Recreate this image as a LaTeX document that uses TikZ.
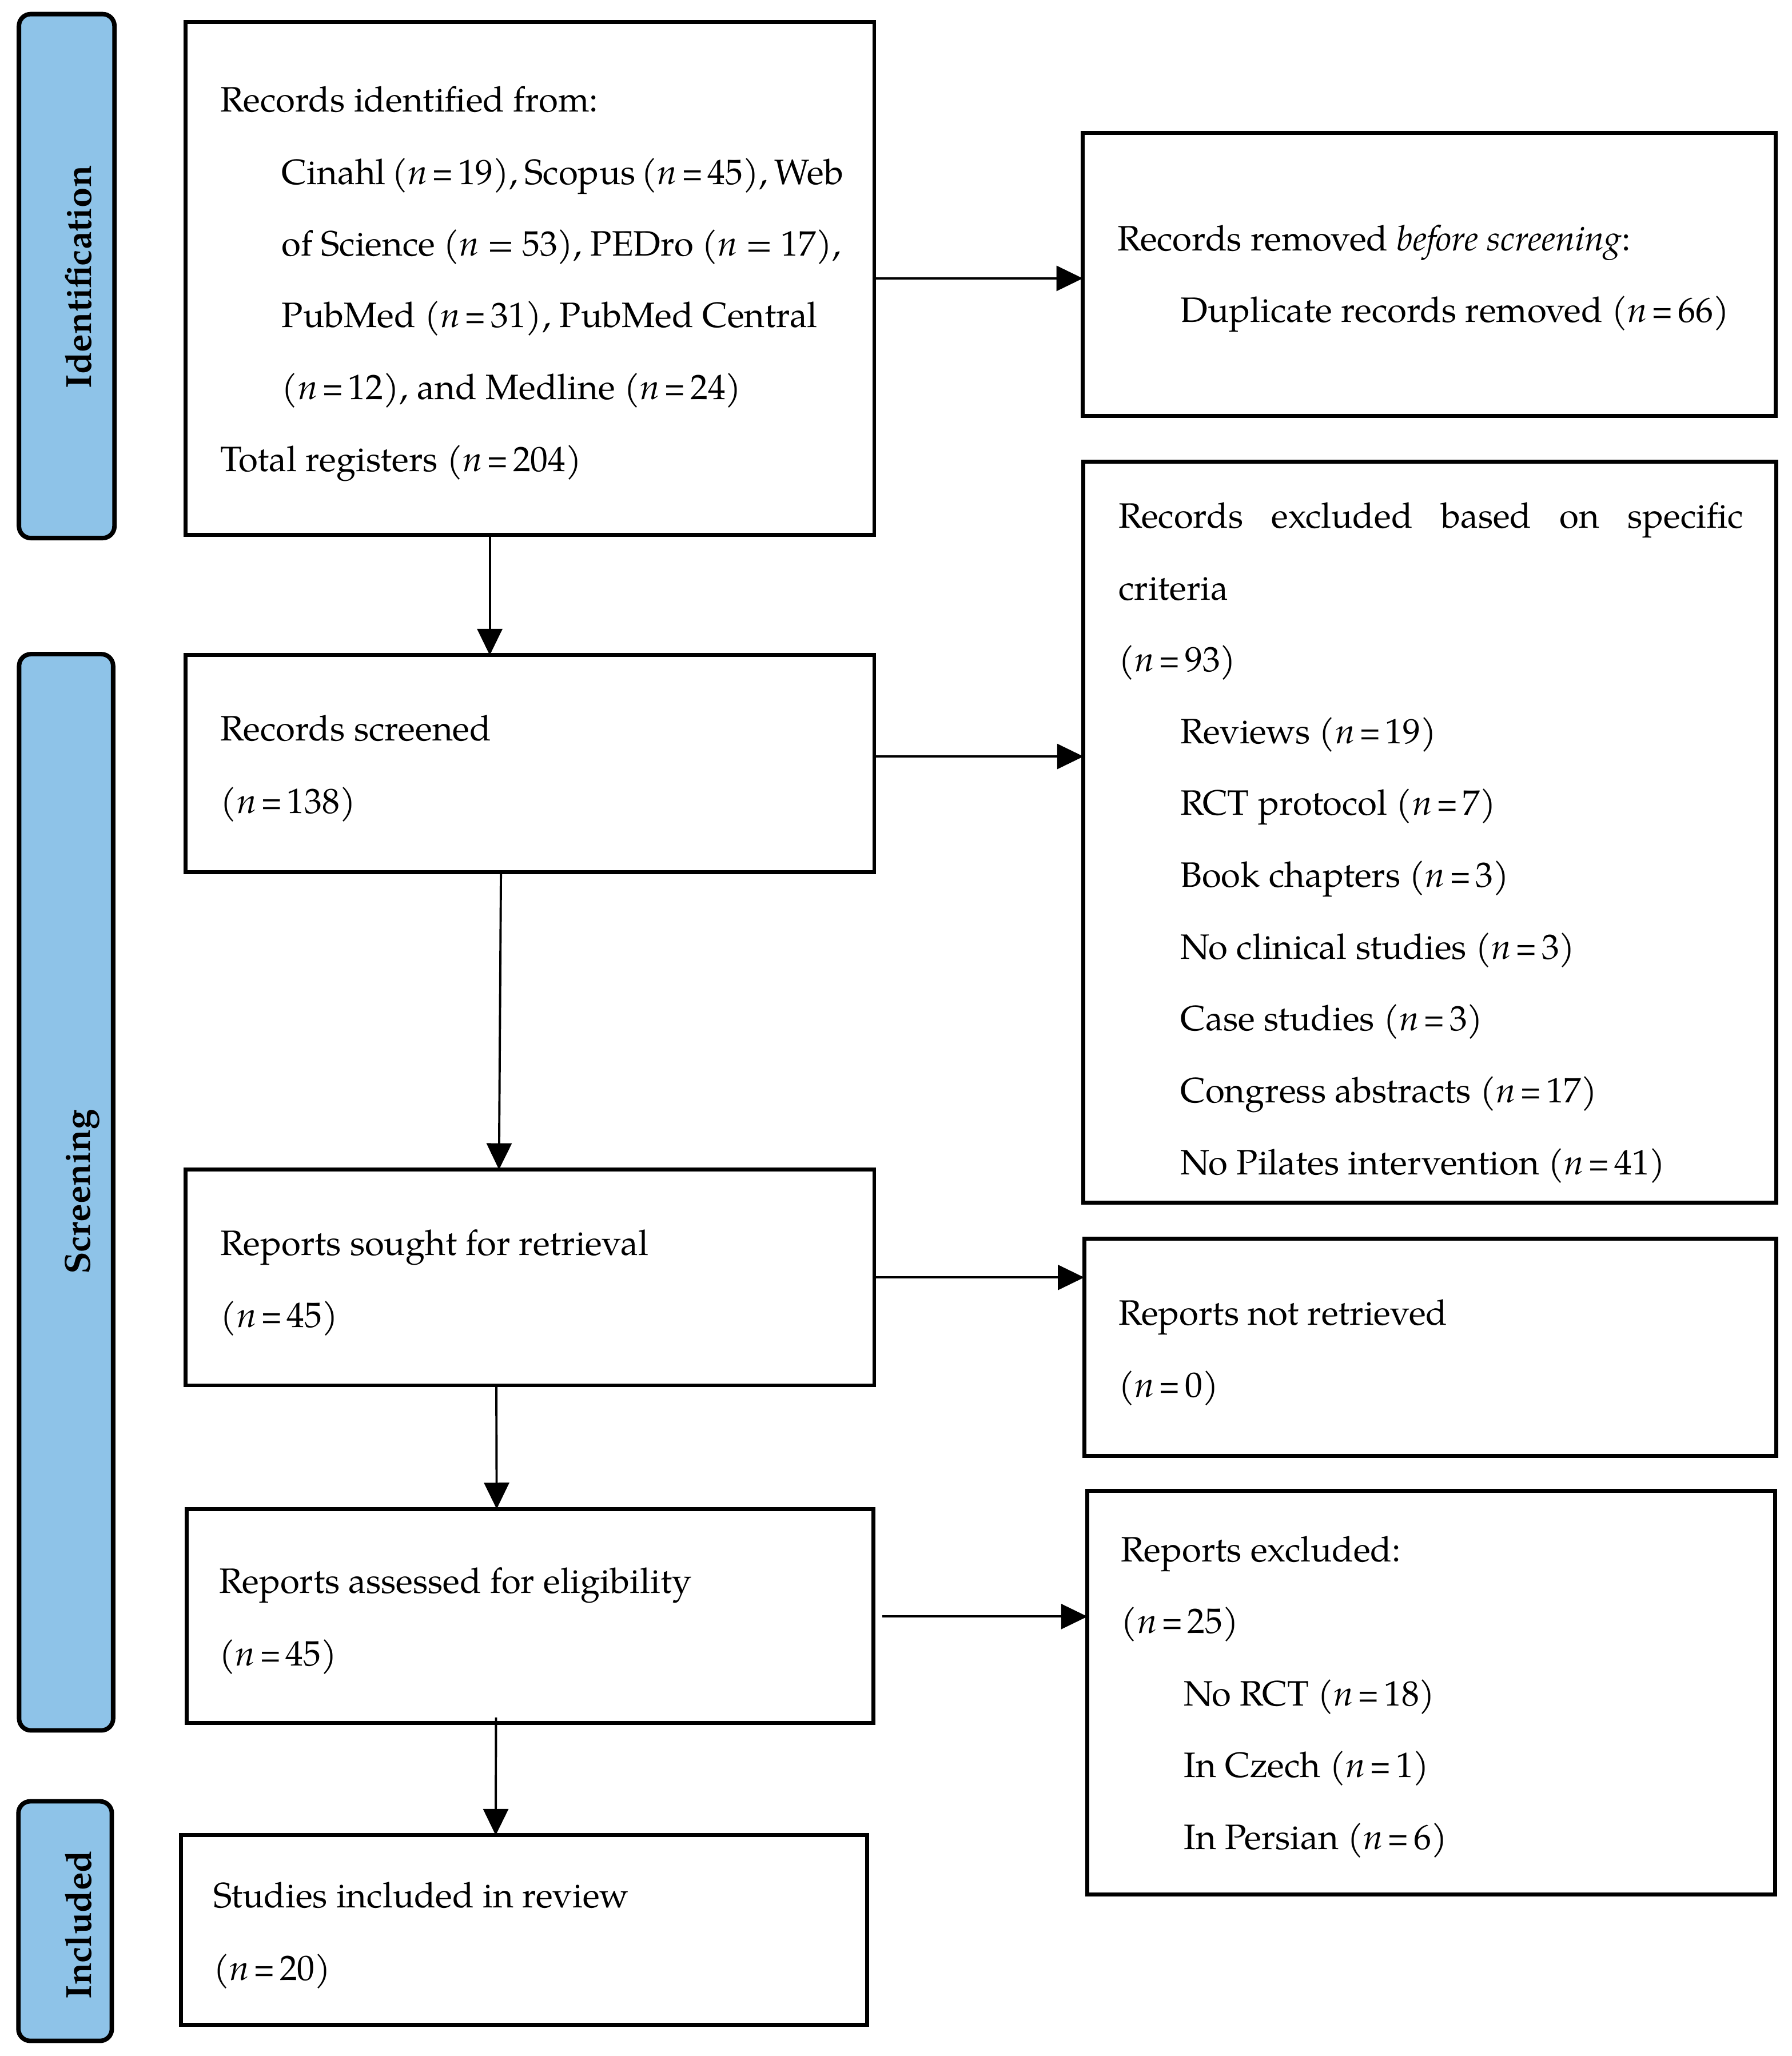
\documentclass[tikz,border=0pt]{standalone}
\usepackage{fontspec}
\usepackage{graphicx}
\setmainfont{texgyrepagella}[Extension=.otf, UprightFont=*-regular, BoldFont=*-bold, ItalicFont=*-italic, BoldItalicFont=*-bolditalic]
\usetikzlibrary{arrows.meta,fit}
\definecolor{sidebl}{RGB}{142,195,232}
\newcommand\nEq[1]{(\textit{n}\hspace{0.13em}\scalebox{0.8}[1]{=}\hspace{0.13em}#1)}
\begin{document}
\begin{tikzpicture}[x=1pt,y=-1pt,
  box/.style={draw,line width=3pt,inner sep=0pt,outer sep=0pt},
  side/.style={draw,line width=3.4pt,fill=sidebl,rounded corners=9pt,inner sep=0pt,outer sep=0pt},
  txt/.style={anchor=base west,inner sep=0pt,font=\fontsize{26.8}{30}\selectfont},
  lab/.style={anchor=base,rotate=90,inner sep=0pt,font=\fontsize{27.5}{30}\selectfont\bfseries},
  arr/.style={line width=1.7pt,-{Triangle[length=20pt,width=19pt]}}]
\useasboundingbox (0,0) rectangle (1362,1562.8);
% side labels
\node[side,fit={(14.4,10.7) (87,409)}] (sid) {};
\node[side,fit={(14.5,497.2) (86,1315.3)}] (sscr) {};
\node[side,fit={(14,1369.2) (85,1551.3)}] (sinc) {};
\node[lab] (lid) at (69.5,210.5) {Identification};
\node[lab] (lscr) at (68.5,906) {Screening};
\node[lab] (linc) at (69.5,1463) {Included};
% boxes
\node[box,fit={(141,16.6) (664.5,406.6)}] (A) {};
\node[box,fit={(823,101) (1349.5,316)}] (B) {};
\node[box,fit={(141,498) (664.5,663)}] (C) {};
\node[box,fit={(823.5,351) (1350,914)}] (D) {};
\node[box,fit={(141,889) (664.5,1053)}] (E) {};
\node[box,fit={(824,941.5) (1350,1106.5)}] (F) {};
\node[box,fit={(142,1147) (664,1309.5)}] (G) {};
\node[box,fit={(826.5,1133) (1349,1440)}] (H) {};
\node[box,fit={(137.5,1395) (659,1539)}] (I) {};
% texts A
\node[txt] (a1) at (167.5,85) {Records identified from:};
\node[txt] (a2) at (214,140) {\makebox[425pt][s]{Cinahl \nEq{19}, Scopus \nEq{45}, Web}};
\node[txt] (a3) at (214,194.5) {\makebox[425pt][s]{of Science (\textit{n} = 53), PEDro (\textit{n} = 17),}};
\node[txt] (a4) at (214,249) {PubMed \nEq{31}, PubMed Central};
\node[txt] (a5) at (214,303.5) {\nEq{12}, and Medline \nEq{24}};
\node[txt] (a6) at (167.5,358.5) {Total registers \nEq{204}};
% texts B
\node[txt] (b1) at (849,190.5) {Records removed \textit{before screening}:};
\node[txt] (b2) at (897,245) {Duplicate records removed \nEq{66}};
% texts C
\node[txt] (c1) at (167.5,563) {Records screened};
\node[txt] (c2) at (167.5,618) {\nEq{138}};
% texts D
\node[txt] (d1) at (850,401.3) {\makebox[475pt][s]{Records excluded based on specific}};
\node[txt] (d2) at (850,455.9) {criteria};
\node[txt] (d3) at (850,510.5) {\nEq{93}};
\node[txt] (d4) at (897,565.1) {Reviews \nEq{19}};
\node[txt] (d5) at (897,619.7) {RCT protocol \nEq{7}};
\node[txt] (d6) at (897,674.3) {Book chapters \nEq{3}};
\node[txt] (d7) at (897,728.9) {No clinical studies \nEq{3}};
\node[txt] (d8) at (897,783.5) {Case studies \nEq{3}};
\node[txt] (d9) at (897,838.1) {Congress abstracts \nEq{17}};
\node[txt] (d10) at (897,892.7) {No Pilates intervention \nEq{41}};
% texts E
\node[txt] (e1) at (167.5,954) {Reports sought for retrieval};
\node[txt] (e2) at (167.5,1009) {\nEq{45}};
% texts F
\node[txt] (f1) at (850,1007) {Reports not retrieved};
\node[txt] (f2) at (850,1062) {\nEq{0}};
% texts G
\node[txt] (g1) at (166.5,1211) {Reports assessed for eligibility};
\node[txt] (g2) at (166.5,1266) {\nEq{45}};
% texts H
\node[txt] (h1) at (852,1187) {Reports excluded:};
\node[txt] (h2) at (852,1241.5) {\nEq{25}};
\node[txt] (h3) at (899.5,1296.5) {No RCT \nEq{18}};
\node[txt] (h4) at (899.5,1351) {In Czech \nEq{1}};
\node[txt] (h5) at (899.5,1405.5) {In Persian \nEq{6}};
% texts I
\node[txt] (i1) at (162,1450) {Studies included in review};
\node[txt] (i2) at (162,1505) {\nEq{20}};
% arrows
\draw[arr] (A.east) -- (A.east -| B.west);
\draw[arr] ([yshift=5.5pt]C.east) -- ([yshift=5.5pt]C.east -| D.west);
\draw[arr] (E.east) -- (E.east -| F.west);
\draw[arr] ([xshift=6.5pt,yshift=-0.5pt]G.east) -- ([yshift=-0.5pt]G.east -| H.west);
\draw[arr] ([xshift=-30.5pt]A.south) -- ([xshift=-30.5pt]C.north);
\draw[arr] ([xshift=-22pt]C.south) -- ([xshift=-23.5pt]E.north);
\draw[arr] ([xshift=-25.5pt]E.south) -- ([xshift=-25.5pt]G.north);
\draw[arr] ([xshift=-26pt,yshift=4pt]G.south) -- ([xshift=-21.5pt]I.north);
\end{tikzpicture}
\end{document}
